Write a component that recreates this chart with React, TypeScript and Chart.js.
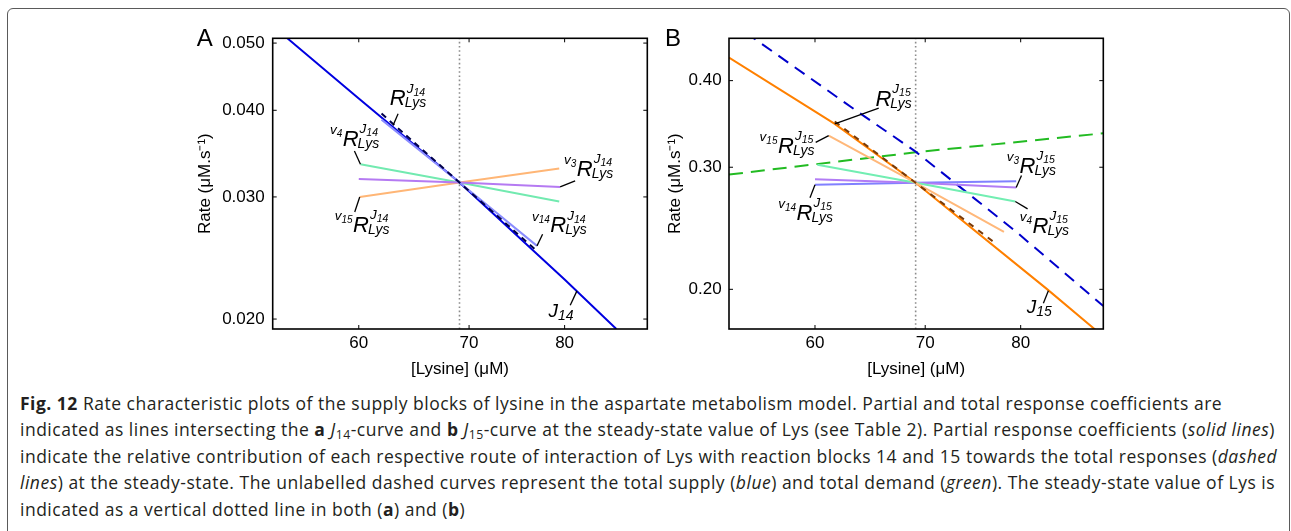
import React, { useEffect, useRef } from "react";
import { Chart, registerables } from "chart.js";

Chart.register(...registerables);

// ---------------- Data ----------------
const xTicksLys = [60, 70, 80];
const yTicksA = [0.02, 0.03, 0.04, 0.05];
const yTicksB = [0.2, 0.3, 0.4];
const steadyLys = 69.07;

// Panel A (J14)
const lysJ14 = [53.2, 54.3, 60, 69.07, 80, 86];
const rateJ14 = [0.0529, 0.0508, 0.0416, 0.03147, 0.0228, 0.01935];
const lysRJ14 = [61.94, 69.07, 76.97];
const rateRJ14 = [0.03956, 0.03147, 0.02507];
const lysV14J14 = [61.94, 69.07, 76.97];
const rateV14J14 = [0.03878, 0.03147, 0.0255];
const lysV4J14 = [60.14, 69.07, 79.4];
const rateV4J14 = [0.03344, 0.03147, 0.02955];
const lysV3J14 = [60, 69.07, 79.5];
const rateV3J14 = [0.03185, 0.03147, 0.03101];
const lysV15J14 = [60.08, 69.07, 79.4];
const rateV15J14 = [0.03, 0.03147, 0.03296];

// Panel B (J15)
const lysJ15 = [53.2, 61.68, 69.07, 82.97, 88.7, 89.8];
const rateJ15 = [0.4317, 0.3465, 0.2849, 0.2003, 0.1753, 0.1711];
const lysSupply = [53.2, 55.08, 63.88, 69.07, 79.5, 89.8];
const rateSupply = [0.4866, 0.4604, 0.359, 0.316, 0.2421, 0.1892];
const lysDemand = [53.2, 69.07, 89.8];
const rateDemand = [0.2928, 0.3153, 0.3358];
const lysRJ15 = [61.68, 69.07, 77.2];
const rateRJ15 = [0.3492, 0.2849, 0.2332];
const lysV15J15 = [61.16, 69.07, 78.15];
const rateV15J15 = [0.3332, 0.2849, 0.2421];
const lysV4J15 = [60.2, 69.07, 79.4];
const rateV4J15 = [0.3024, 0.2849, 0.2677];
const lysV3J15 = [60, 69.07, 79.5];
const rateV3J15 = [0.2883, 0.2849, 0.2805];
const lysV14J15 = [60, 69.07, 79.5];
const rateV14J15 = [0.283, 0.2849, 0.2864];

const xRange = [53.2, 89.8];
const yRangeA = [0.01935, 0.0508];
const yRangeB = [0.1753, 0.4604];

// ---------------- Helpers ----------------
const FONT = "'Liberation Sans', Arial, Helvetica, sans-serif";

const pts = (xs: number[], ys: number[]) => xs.map((x, i) => ({ x, y: ys[i] }));

function ds(xs: number[], ys: number[], color: string, width = 2, dash: number[] = []) {
  return {
    data: pts(xs, ys),
    borderColor: color,
    borderWidth: width,
    borderDash: dash,
    pointRadius: 0,
    tension: 0,
    fill: false,
  };
}

type Label = {
  at: [number, number];
  lead: [number, number];
  txt: [number, number];
  kind: "R" | "J";
  pre?: string;
  sup: string;
};

function seg(ctx: CanvasRenderingContext2D, x1: number, y1: number, x2: number, y2: number) {
  ctx.beginPath();
  ctx.moveTo(x1, y1);
  ctx.lineTo(x2, y2);
  ctx.stroke();
}

function drawR(ctx: CanvasRenderingContext2D, X: number, Y: number, sup: string, pre?: string) {
  ctx.font = `italic 22px ${FONT}`;
  const wR = ctx.measureText("R").width;
  ctx.fillText("R", X, Y);
  ctx.font = `italic 13.5px ${FONT}`;
  const wJ = ctx.measureText("J").width;
  ctx.fillText("J", X + wR + 1, Y - 12.5);
  ctx.font = `italic 10.5px ${FONT}`;
  ctx.fillText(sup, X + wR + 1 + wJ, Y - 9.5);
  ctx.font = `italic 14px ${FONT}`;
  ctx.fillText("Lys", X + wR - 1, Y + 2);
  if (pre) {
    ctx.font = `italic 10px ${FONT}`;
    const wd = ctx.measureText(pre).width;
    ctx.font = `italic 13.5px ${FONT}`;
    const wv = ctx.measureText("v").width;
    const x0 = X - wd - wv - 0.5;
    ctx.fillText("v", x0, Y - 11.5);
    ctx.font = `italic 10px ${FONT}`;
    ctx.fillText(pre, x0 + wv, Y - 9);
  }
}

function drawJ(ctx: CanvasRenderingContext2D, X: number, Y: number, sub: string) {
  ctx.font = `italic 19px ${FONT}`;
  const wJ = ctx.measureText("J").width;
  ctx.fillText("J", X, Y);
  ctx.font = `italic 14px ${FONT}`;
  ctx.fillText(sub, X + wJ, Y + 3);
}

function makeFramePlugin(letter: string, letterX: number, labels: Label[]) {
  return {
    id: "frame" + letter,
    afterDatasetsDraw(chart: any) {
      const { ctx, chartArea: a, scales } = chart;
      const x = scales.x;
      const y = scales.y;
      ctx.save();
      ctx.strokeStyle = "#000";
      ctx.lineWidth = 1;
      const tk = 4;
      y.ticks.forEach((t: any) => {
        const p = y.getPixelForValue(t.value);
        seg(ctx, a.left, p, a.left + tk, p);
        seg(ctx, a.right - tk, p, a.right, p);
      });
      x.ticks.forEach((t: any) => {
        const p = x.getPixelForValue(t.value);
        seg(ctx, p, a.bottom, p, a.bottom - tk);
        seg(ctx, p, a.top, p, a.top + tk);
      });
      ctx.lineWidth = 1.6;
      ctx.strokeRect(a.left, a.top, a.right - a.left, a.bottom - a.top);

      ctx.lineWidth = 1.3;
      ctx.fillStyle = "#000";
      ctx.textAlign = "left";
      ctx.textBaseline = "alphabetic";
      labels.forEach((l) => {
        const px = x.getPixelForValue(l.at[0]);
        const py = y.getPixelForValue(l.at[1]);
        seg(ctx, px, py, px + l.lead[0], py + l.lead[1]);
        const X = px + l.txt[0];
        const Y = py + l.txt[1];
        if (l.kind === "J") drawJ(ctx, X, Y, l.sup);
        else drawR(ctx, X, Y, l.sup, l.pre);
      });
      ctx.font = `24px ${FONT}`;
      ctx.fillText(letter, letterX, 26);
      ctx.restore();
    },
  };
}

function makeConfig(opts: {
  datasets: any[];
  yTicks: number[];
  yRange: number[];
  yDigits: number;
  yWidth: number;
  yTitlePad: number;
  yTickPad: number;
  padRight: number;
  plugin: any;
}) {
  return {
    type: "line",
    data: { datasets: opts.datasets },
    plugins: [opts.plugin],
    options: {
      responsive: false,
      animation: false,
      devicePixelRatio: 1,
      events: [],
      layout: { padding: { left: 0, top: 18.3, right: opts.padRight, bottom: 0 } },
      plugins: { legend: { display: false }, tooltip: { enabled: false } },
      scales: {
        x: {
          type: "logarithmic",
          min: xRange[0],
          max: xRange[1],
          afterBuildTicks: (s: any) => {
            s.ticks = xTicksLys.map((v) => ({ value: v }));
          },
          afterFit: (s: any) => {
            s.height = 51;
          },
          grid: { display: false, drawTicks: false },
          border: { display: false },
          ticks: {
            autoSkip: false,
            maxRotation: 0,
            padding: 4.1,
            color: "#000",
            font: { family: FONT, size: 17 },
            callback: (v: any) => String(v),
          },
          title: {
            display: true,
            text: "[Lysine] (μM)",
            color: "#000",
            font: { family: FONT, size: 17 },
            padding: { top: 0, bottom: 0.8 },
          },
        },
        y: {
          type: "logarithmic",
          min: opts.yRange[0],
          max: opts.yRange[1],
          afterBuildTicks: (s: any) => {
            s.ticks = opts.yTicks.map((v) => ({ value: v }));
          },
          afterFit: (s: any) => {
            s.width = opts.yWidth;
          },
          grid: { display: false, drawTicks: false },
          border: { display: false },
          ticks: {
            autoSkip: false,
            padding: opts.yTickPad,
            color: "#000",
            font: { family: FONT, size: 17 },
            callback: (v: any) => Number(v).toFixed(opts.yDigits),
          },
          title: {
            display: true,
            text: "Rate (μM.s⁻¹)",
            color: "#000",
            font: { family: FONT, size: 17 },
            padding: { top: opts.yTitlePad, bottom: 0 },
          },
        },
      },
    },
  };
}

const steadyA = ds([steadyLys, steadyLys], yRangeA, "#8c8c8c", 1.6, [1.6, 2.6]);
const steadyB = ds([steadyLys, steadyLys], yRangeB, "#8c8c8c", 1.6, [1.6, 2.6]);

const labelsA: Label[] = [
  { at: [62.95, 0.03805], lead: [5, -11.7], txt: [-3.3, -20], kind: "R", sup: "14" },
  { at: [lysV4J14[0], rateV4J14[0]], lead: [-6, -13.3], txt: [-17.7, -18.3], kind: "R", pre: "4", sup: "14" },
  { at: [lysV3J14[2], rateV3J14[2]], lead: [15, -6], txt: [16.7, -11], kind: "R", pre: "3", sup: "14" },
  { at: [lysV15J14[0], rateV15J14[0]], lead: [-5, 15], txt: [-6.7, 35], kind: "R", pre: "15", sup: "14" },
  { at: [lysV14J14[2], rateV14J14[2]], lead: [5.6, -11.7], txt: [13.3, -13.4], kind: "R", pre: "14", sup: "14" },
  { at: [81.39, 0.02196], lead: [-6.7, 14.3], txt: [-28.4, 26], kind: "J", sup: "14" },
];

const labelsB: Label[] = [
  { at: [61.68, 0.3465], lead: [44, -15.7], txt: [40.7, -18], kind: "R", sup: "15" },
  { at: [lysV15J15[0], rateV15J15[0]], lead: [-13, 6.7], txt: [-50.7, 17.3], kind: "R", pre: "15", sup: "15" },
  { at: [lysV3J15[2], rateV3J15[2]], lead: [5.3, -12], txt: [3.3, -14.7], kind: "R", pre: "3", sup: "15" },
  { at: [lysV14J15[0], rateV14J15[0]], lead: [-5, 13], txt: [-18.4, 34.7], kind: "R", pre: "14", sup: "15" },
  { at: [lysV4J15[2], rateV4J15[2]], lead: [12.3, 7.3], txt: [17.3, 31.3], kind: "R", pre: "4", sup: "15" },
  { at: [83.16, 0.1991], lead: [-5, 12.6], txt: [-21.6, 22.6], kind: "J", sup: "15" },
];

function Panel(props: { left: number; top: number; width: number; height: number; make: () => any }) {
  const ref = useRef<HTMLCanvasElement | null>(null);
  useEffect(() => {
    if (!ref.current) return;
    const chart = new Chart(ref.current, props.make());
    return () => chart.destroy();
  }, []);
  return (
    <canvas
      ref={ref}
      width={props.width}
      height={props.height}
      style={{ position: "absolute", left: props.left, top: props.top, width: props.width, height: props.height }}
    />
  );
}

const makeA = () =>
  makeConfig({
    datasets: [
      ds(lysRJ14, rateRJ14, "#00004a", 2, [6, 5]),
      ds(lysV14J14, rateV14J14, "#8a8cff", 2),
      ds(lysV3J14, rateV3J14, "#b57af2", 2),
      ds(lysV4J14, rateV4J14, "#72eab0", 2),
      ds(lysV15J14, rateV15J14, "#ffb676", 2),
      ds(lysJ14, rateJ14, "#0000e0", 2),
      steadyA,
    ],
    yTicks: yTicksA,
    yRange: yRangeA,
    yDigits: 3,
    yWidth: 92.7,
    yTitlePad: 14.8,
    yTickPad: 8,
    padRight: 12.7,
    plugin: makeFramePlugin("A", 16.7, labelsA),
  });

const makeB = () =>
  makeConfig({
    datasets: [
      ds(lysRJ15, rateRJ15, "#7a3a08", 2, [6, 6]),
      ds(lysV15J15, rateV15J15, "#ffb87a", 2),
      ds(lysV4J15, rateV4J15, "#72eeb2", 2),
      ds(lysV3J15, rateV3J15, "#b27cf5", 2),
      ds(lysV14J15, rateV14J15, "#8080ff", 2),
      ds(lysJ15, rateJ15, "#ff8000", 2),
      ds(lysSupply, rateSupply, "#0000cc", 2, [12, 8]),
      ds(lysDemand, rateDemand, "#22bb22", 2, [14, 8]),
      steadyB,
    ],
    yTicks: yTicksB,
    yRange: yRangeB,
    yDigits: 2,
    yWidth: 69,
    yTitlePad: 5.5,
    yTickPad: 7.3,
    padRight: 16.7,
    plugin: makeFramePlugin("B", 5, labelsB),
  });

const capFont = "'Open Sans', 'Noto Sans', sans-serif";

export default function App() {
  const lineStyle = (i: number): React.CSSProperties => ({
    position: "absolute",
    left: 20,
    top: 390 + i * 26.4,
    height: 26.4,
    lineHeight: "26.4px",
    whiteSpace: "nowrap",
    fontFamily: capFont,
    fontSize: 17.5,
    letterSpacing: "0.5px",
    color: "#231f20",
  });
  const sub: React.CSSProperties = { fontSize: "0.7em", verticalAlign: "-0.25em" };
  return (
    <div
      style={{
        position: "absolute",
        left: 0,
        top: 0,
        width: 1291,
        height: 531,
        overflow: "hidden",
        background: "#fff",
      }}
    >
      <div
        style={{
          position: "absolute",
          left: 7,
          top: 8,
          width: 1283,
          height: 700,
          boxSizing: "border-box",
          border: "1px solid #5a5a5a",
          borderRadius: 6,
        }}
      />
      <Panel left={180} top={20} width={480} height={360} make={makeA} />
      <Panel left={660} top={20} width={460} height={360} make={makeB} />
      <div style={lineStyle(0)}>
        <b>Fig. 12</b> Rate characteristic plots of the supply blocks of lysine in the aspartate metabolism model. Partial and total response coefficients are
      </div>
      <div style={lineStyle(1)}>
        indicated as lines intersecting the <b>a</b> <i>J</i>
        <span style={sub}>14</span>-curve and <b>b</b> <i>J</i>
        <span style={sub}>15</span>-curve at the steady-state value of Lys (see Table 2). Partial response coefficients (<i>solid lines</i>)
      </div>
      <div style={lineStyle(2)}>
        indicate the relative contribution of each respective route of interaction of Lys with reaction blocks 14 and 15 towards the total responses (<i>dashed</i>
      </div>
      <div style={lineStyle(3)}>
        <i>lines</i>) at the steady-state. The unlabelled dashed curves represent the total supply (<i>blue</i>) and total demand (<i>green</i>). The steady-state value of Lys is
      </div>
      <div style={lineStyle(4)}>
        indicated as a vertical dotted line in both (<b>a</b>) and (<b>b</b>)
      </div>
    </div>
  );
}
